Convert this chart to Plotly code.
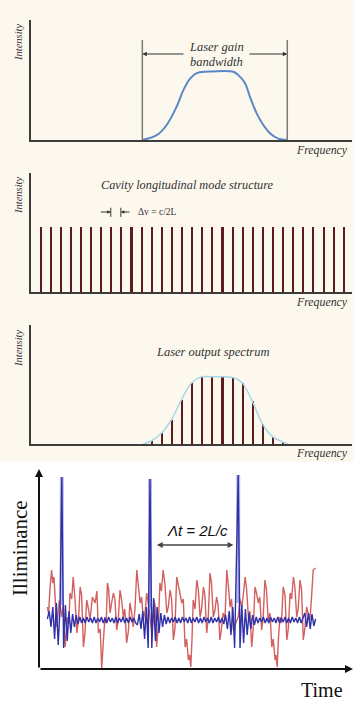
import plotly.graph_objects as go

W, H = 354, 701

# ---- panel 1: laser gain curve (frequency in units of mode spacing) ----
gain_freq = [11.12, 12.54, 13.53, 14.52, 15.18, 15.84, 16.50, 17.48, 20.12,
             20.62, 21.28, 21.77, 22.43, 23.09, 23.75, 24.57, 25.46]
gain_int = [0, 0.07, 0.22, 0.49, 0.73, 0.90, 0.98, 1.0, 1.0,
            0.95, 0.83, 0.63, 0.39, 0.22, 0.10, 0.02, 0]
gain_edges = [11.12, 25.46]

# ---- panel 2: cavity longitudinal modes ----
cavity_modes = list(range(1, 32))
cavity_int = [1.0] * len(cavity_modes)

# ---- panel 3: laser output spectrum ----
output_modes = list(range(12, 26))
output_int = [0.045, 0.16, 0.36, 0.66, 0.91, 1.0, 1.0, 1.0, 0.99, 0.91, 0.635, 0.30, 0.11, 0.03]
env_freq = [11.2, 12, 13, 14, 15, 16, 17, 18, 19, 20, 21, 22, 23, 24, 25, 25.5]
env_int = [0, 0.045, 0.16, 0.36, 0.66, 0.91, 1.0, 1.0, 1.0, 0.99, 0.91, 0.635, 0.30, 0.11, 0.03, 0]

# ---- panel 4: illuminance vs time ----
red_t = [2.8, 3.2, 3.7, 4.2, 4.6, 5.0, 5.9, 6.3, 6.8, 7.2,
         7.6, 8.1, 8.7, 9.2, 9.6, 10.0, 10.3, 10.9, 11.4, 12.0,
         12.6, 13.2, 13.7, 14.2, 14.8, 15.3, 15.9, 16.5, 17.0, 17.8,
         18.7, 19.3, 19.8, 20.4, 20.9, 21.5, 22.0, 22.4, 22.8, 23.2,
         23.7, 24.2, 24.8, 25.3, 25.9, 26.4, 27.0, 27.5, 28.1, 28.6,
         29.2, 29.8, 30.3, 30.8, 31.4, 32.0, 32.6, 33.1, 33.7, 34.2,
         34.8, 35.4, 35.9, 36.7, 37.6, 38.0, 38.3, 38.8, 39.2, 39.8,
         40.3, 40.8, 41.4, 42.0, 42.6, 43.1, 43.7, 44.2, 44.8, 45.3,
         45.9, 46.7, 47.6, 48.1, 48.7, 49.2, 49.8, 50.2, 50.6, 51.0,
         51.4, 52.0, 52.6, 53.1, 53.7, 54.2, 54.8, 55.3, 55.9, 56.4,
         57.0, 57.5, 58.1, 58.6, 59.2, 59.7, 60.3, 60.8, 61.4, 62.0,
         62.6, 63.1, 63.7, 64.2, 64.8, 65.6, 66.4, 67.0, 67.6, 68.1,
         68.7, 69.2, 69.8, 70.3, 70.9, 71.4, 72.0, 72.5, 73.1, 73.6,
         74.2, 74.7, 75.3, 75.8, 76.4, 77.0, 77.6, 78.1, 78.7, 79.0,
         79.4, 79.8, 80.3, 80.8, 81.4, 82.0, 82.6, 83.1, 83.7, 84.2,
         84.8, 85.3, 85.9, 86.4, 87.0, 87.5, 88.1, 88.6, 89.2, 89.7,
         90.3, 90.8, 91.4, 92.2]
red_val = [62, 56, 82, 99, 86, 92, 42, 55, 69, 60,
           52, 64, 22, 40, 52, 45, 76, 70, 92, 70,
           36, 50, 82, 74, 22, 35, 69, 60, 49, 72,
           66, 78, 36, 40, 1, 30, 52, 46, 86, 80,
           56, 66, 76, 70, 39, 48, 79, 70, 52, 60,
           26, 38, 66, 58, 42, 60, 99, 84, 66, 72,
           49, 58, 76, 60, 36, 48, 69, 62, 22, 45,
           86, 78, 99, 84, 56, 62, 79, 70, 29, 40,
           92, 80, 66, 70, 22, 30, 9, 14, 2, 30,
           69, 60, 89, 80, 52, 60, 82, 74, 36, 50,
           96, 86, 52, 58, 72, 64, 29, 40, 56, 50,
           99, 84, 62, 70, 39, 46, 52, 70, 62, 74,
           92, 80, 52, 58, 22, 40, 82, 76, 66, 72,
           39, 50, 89, 80, 49, 56, 22, 30, 9, 14,
           2, 30, 52, 46, 82, 74, 29, 40, 76, 70,
           92, 82, 52, 60, 89, 80, 29, 40, 62, 56,
           49, 70, 99, 101]

blue_t0, blue_dt = 2.8, 0.6
blue_val = [50, 58, 42, 62, 30, 66, 24, 60, 192, 21, 64, 28, 58, 36, 55, 42, 54, 45, 52, 46,
            51, 46, 52, 47, 51, 46, 52, 46, 51, 47, 52, 46, 51, 46, 52, 47, 51, 46, 52, 46,
            51, 47, 52, 46, 51, 46, 52, 47, 51, 46,
            44, 55, 40, 58, 30, 62, 21, 190, 21, 71, 28, 62, 36, 56, 42, 54, 45, 52,
            46, 51, 47, 52, 46, 51, 46, 52, 47, 51, 46, 52, 46, 51, 47, 52, 46, 51, 46, 52,
            47, 51, 46, 52, 46, 51, 47, 52, 46, 51,
            45, 54, 40, 58, 34, 62, 21, 104, 194, 21, 64, 26, 60, 34, 56, 40, 54, 44, 52,
            46, 51, 47, 52, 46, 51, 46, 52, 47, 51, 46, 52, 46, 51, 47, 52, 46, 51, 46, 52,
            47, 51, 46, 52, 46, 51,
            56, 42, 56, 40, 55, 43, 50]
blue_t = [round(blue_t0 + blue_dt * i, 2) for i in range(len(blue_val))]

# pale halo around the three round-trip pulses
pulse_t = [7.6, 37.0, 66.4]
pulse_top = [192, 190, 194]
pulse_base = [64, 60, 66]

AXIS = "#3c3c3c"
SERIF = "Liberation Serif"


def px(x):
    return x / W


def py(y):
    return 1 - y / H


# frequency scale: mode n sits at pixel 29.9 + 10.11 * n
f_range = [(30.5 - 29.9) / 10.11, (352 - 29.9) / 10.11]

fig = go.Figure()

fig.add_trace(go.Scatter(x=gain_freq, y=gain_int, mode="lines", line=dict(color="#5b87c8", width=2, shape="spline", smoothing=1),
                         xaxis="x", yaxis="y", hoverinfo="skip"))
fig.add_trace(go.Bar(x=cavity_modes, y=cavity_int, width=0.2, marker=dict(color="#5e1a1c", line=dict(width=0)),
                     xaxis="x2", yaxis="y2", hoverinfo="skip"))
fig.add_trace(go.Scatter(x=env_freq, y=env_int, mode="lines", line=dict(color="#a6d8e6", width=1.5, shape="spline", smoothing=0.8),
                         xaxis="x3", yaxis="y3", hoverinfo="skip"))
fig.add_trace(go.Bar(x=output_modes, y=output_int, width=0.2, marker=dict(color="#5e1a1c", line=dict(width=0)),
                     xaxis="x3", yaxis="y3", hoverinfo="skip"))
fig.add_trace(go.Scatter(x=red_t, y=red_val, mode="lines", line=dict(color="#d2605e", width=1.4),
                         xaxis="x4", yaxis="y4", hoverinfo="skip"))

halo_x, halo_y = [], []
for t, top, base in zip(pulse_t, pulse_top, pulse_base):
    halo_x += [t, t, None]
    halo_y += [base, top, None]
fig.add_trace(go.Scatter(x=halo_x, y=halo_y, mode="lines", line=dict(color="#b8b8e6", width=4),
                         xaxis="x4", yaxis="y4", hoverinfo="skip"))
fig.add_trace(go.Scatter(x=blue_t, y=blue_val, mode="lines", line=dict(color="#3030a8", width=1.4),
                         xaxis="x4", yaxis="y4", hoverinfo="skip"))

top_axis = dict(showgrid=False, zeroline=False, showticklabels=False, ticks="",
                showline=True, linecolor=AXIS, linewidth=1.5, fixedrange=True)
bare = dict(showgrid=False, zeroline=False, showticklabels=False, ticks="", showline=False)

fig.update_layout(
    width=W, height=H, autosize=False,
    margin=dict(l=0, r=0, t=0, b=0),
    paper_bgcolor="white", plot_bgcolor="rgba(0,0,0,0)",
    showlegend=False, bargap=0,
    xaxis=dict(top_axis, domain=[px(30.5), px(352)], range=f_range, anchor="y"),
    yaxis=dict(top_axis, domain=[py(140), py(20)], range=[0, 120 / 68.3], anchor="x"),
    xaxis2=dict(top_axis, domain=[px(30.5), px(352)], range=f_range, anchor="y2"),
    yaxis2=dict(top_axis, domain=[py(292), py(172.7)], range=[0, 119.3 / 65.3], anchor="x2"),
    xaxis3=dict(top_axis, domain=[px(30.5), px(352)], range=f_range, anchor="y3"),
    yaxis3=dict(top_axis, domain=[py(444), py(325)], range=[0, 119 / 67.3], anchor="x3"),
    xaxis4=dict(bare, domain=[px(39), px(353)], range=[0, (353 - 39) / 3], anchor="y4"),
    yaxis4=dict(bare, domain=[py(669), py(468)], range=[0, 201], anchor="x4"),
)

shapes = [dict(type="rect", xref="paper", yref="paper", x0=0, x1=1, y0=py(462), y1=1,
               fillcolor="#fdf8ee", line=dict(width=0), layer="below")]
# gain bandwidth edges
for f in gain_edges:
    shapes.append(dict(type="line", xref="x", yref="y", x0=f, x1=f, y0=0, y1=1.464,
                       line=dict(color="#7a7a7a", width=1.5)))
# mode spacing ticks
for m in [8, 9]:
    shapes.append(dict(type="line", xref="x2", yref="y2", x0=m, x1=m, y0=1.15, y1=1.29,
                       line=dict(color="#333", width=1)))
fig.update_layout(shapes=shapes)

ann = []


def arrow(x, y, ax, ay, xr, yr, side="end", color="#333", w=1, size=1, head=2):
    ann.append(dict(x=x, y=y, ax=ax, ay=ay, xref=xr, yref=yr, axref=xr, ayref=yr, text="",
                    showarrow=True, arrowhead=head, arrowsize=size, arrowwidth=w,
                    arrowcolor=color, arrowside=side))


def label(x, y, text, size, angle=0, family=SERIF, color="#333"):
    ann.append(dict(x=px(x), y=py(y), xref="paper", yref="paper", text=text, showarrow=False,
                    textangle=angle, font=dict(family=family, size=size, color=color),
                    xanchor="center", yanchor="middle"))


# panel 1 annotations
arrow(gain_edges[0], 1.259, 15.34, 1.259, "x", "y", size=0.9)
arrow(gain_edges[1], 1.259, 21.57, 1.259, "x", "y", size=0.9)
label(216, 47, "<i>Laser gain</i>", 12.5)
label(217, 62, "<i>bandwidth</i>", 12.5)
label(18, 43, "<i>Intensity</i>", 10.5, angle=-90)
label(322, 150, "<i>Frequency</i>", 11.8)

# panel 2 annotations
arrow(8, 1.225, 6.87, 1.225, "x2", "y2", size=0.7)
arrow(9, 1.225, 10.0, 1.225, "x2", "y2", size=0.7)
label(157, 212, "Δv = c/2L", 9.5)
label(187, 185, "<i>Cavity longitudinal mode structure</i>", 12.3)
label(18, 196, "<i>Intensity</i>", 10.5, angle=-90)
label(322, 302, "<i>Frequency</i>", 11.8)

# panel 3 annotations
label(213, 352, "<i>Laser output spectrum</i>", 12.5)
label(18, 349, "<i>Intensity</i>", 10.5, angle=-90)
label(322, 453, "<i>Frequency</i>", 11.8)

# panel 4 axes with arrowheads
arrow(0, 200, 0, 0, "x4", "y4", color="#111", w=2, size=0.8)
arrow((353 - 39) / 3, 0, 0, 0, "x4", "y4", color="#111", w=2, size=0.8)
arrow(39.3, 124, 65.3, 124, "x4", "y4", side="end+start", color="#444", w=1.3, size=0.9)
label(197, 530, "<i>Λt = 2L/c</i>", 15, family="Liberation Sans", color="#111")
label(20, 548, "Illiminance", 21, angle=-90, color="#111")
label(322, 690, "Time", 20, color="#111")

fig.update_layout(annotations=ann)

# the page's default body margin would push the figure off the 354x701 window
fig.write_html("out.html", config={"displayModeBar": False},
               post_script="document.body.style.margin='0';")
